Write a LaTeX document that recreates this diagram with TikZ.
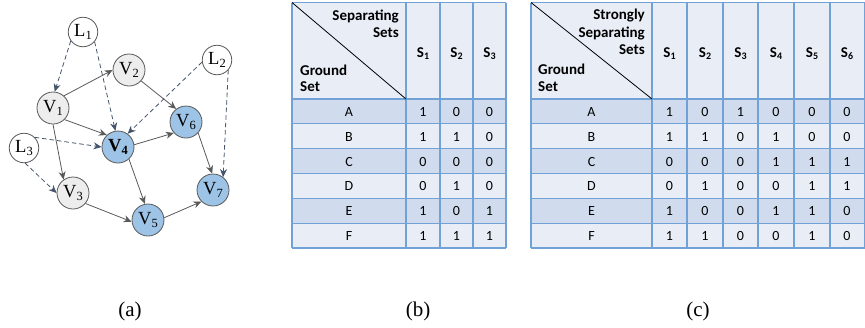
\documentclass[tikz,border=0pt]{standalone}
\usepackage{fontspec}
\setmainfont{Liberation Serif}
\newfontfamily\tabfont{Carlito}
\usetikzlibrary{arrows.meta}
\definecolor{nodeblue}{RGB}{157,195,230}
\definecolor{nodegray}{RGB}{237,237,237}
\definecolor{edgegray}{RGB}{89,89,89}
\definecolor{dashblue}{RGB}{68,84,106}
\definecolor{rowdark}{RGB}{208,220,237}
\definecolor{rowlight}{RGB}{233,238,246}
\definecolor{gridblue}{RGB}{112,162,216}
\newcommand\nsub[2]{#1\raisebox{-0.35ex}{\fontsize{12.5}{12.5}\selectfont #2}}
\newcommand\ssub[2]{#1\raisebox{-0.3ex}{\fontsize{10}{10}\selectfont #2}}
\begin{document}
\begin{tikzpicture}[x=1pt,y=-1pt,
  gnode/.style={circle, draw=edgegray, line width=0.8pt, minimum size=32pt, inner sep=0pt, font=\fontsize{18.5}{18.5}\selectfont},
  lnode/.style={gnode, fill=white, minimum size=29.5pt},
  vgray/.style={gnode, fill=nodegray},
  vblue/.style={gnode, fill=nodeblue},
  sedge/.style={draw=edgegray, line width=0.8pt, -{Stealth[length=8pt,width=7pt]}},
  dedge/.style={draw=dashblue, line width=0.8pt, dash pattern=on 4.5pt off 3pt, -{Stealth[length=8pt,width=7pt]}},
  tgrid/.style={draw=gridblue, line width=1.2pt},
  tcell/.style={anchor=base, inner sep=0pt, font=\tabfont\fontsize{14}{16}\selectfont},
  hcell/.style={anchor=base, inner sep=0pt, font=\tabfont\bfseries\fontsize{15}{17}\selectfont},
  captext/.style={font=\fontsize{21}{24}\selectfont, inner sep=0pt}
]
\useasboundingbox (0,0) rectangle (865,327);

% ---------- graph (a) ----------
\node[lnode] (L1) at (83,32) {\nsub{L}{1}};
\node[lnode] (L2) at (217,60) {\nsub{L}{2}};
\node[lnode] (L3) at (24,148) {\nsub{L}{3}};
\node[vgray] (V1) at (53,108) {\nsub{V}{1}};
\node[vgray] (V2) at (129,70) {\nsub{V}{2}};
\node[vgray] (V3) at (73,193) {\nsub{V}{3}};
\node[vblue] (V4) at (118,147) {\bfseries\nsub{V}{4}};
\node[vblue] (V5) at (148,220) {\nsub{V}{5}};
\node[vblue] (V6) at (186,122) {\nsub{V}{6}};
\node[vblue] (V7) at (213,190) {\nsub{V}{7}};

\draw[sedge] (V1.48) -- (V2.180);
\draw[sedge] (V1.-45) -- (V4.133);
\draw[sedge] (V1.-90) -- (V3.125);
\draw[sedge] (V2.-42) -- (V6.127);
\draw[sedge] (V4.8) -- (V6.-138);
\draw[sedge] (V4.-48) -- (V5.101);
\draw[sedge] (V3.-40) -- (V5.186);
\draw[sedge] (V5.8) -- (V7.225);
\draw[sedge] (V6.-42) -- (V7.93);

\draw[dedge] (L1.-144) -- (V1.84);
\draw[dedge] (L1.-40) -- (V4.99);
\draw[dedge] (L2.188) -- (V4.54);
\draw[dedge] (L2.-42) -- (V7.52);
\draw[dedge] (L3.45) -- (V4.180);
\draw[dedge] (L3.-86) -- (V3.180);

% ---------- table (b) ----------
\fill[rowlight] (292,2.5) rectangle (506,248);
\foreach \i in {0,2,4}{
  \fill[rowdark] (292,{99+24.83*\i}) rectangle (506,{99+24.83*(\i+1)});
}
\foreach \x in {292,406,440,473,506}{ \draw[tgrid] (\x,2.5) -- (\x,248); }
\draw[tgrid] (292,2.5) -- (506,2.5);
\foreach \i in {0,...,6}{ \draw[tgrid] (292,{99+24.83*\i}) -- (506,{99+24.83*\i}); }
\draw[line width=0.8pt] (292,2.5) -- (406,99);
\node[hcell, anchor=base east] at (399,20) {Separating};
\node[hcell, anchor=base east] at (399,37) {Sets};
\node[hcell, anchor=base west] at (300,75) {Ground};
\node[hcell, anchor=base west] at (300,91.5) {Set};
\node[hcell] at (423,57) {\ssub{S}{1}};
\node[hcell] at (456.5,57) {\ssub{S}{2}};
\node[hcell] at (489.5,57) {\ssub{S}{3}};
\foreach \lab/\a/\b/\c [count=\i from 0] in {A/1/0/0, B/1/1/0, C/0/0/0, D/0/1/0, E/1/0/1, F/1/1/1}{
  \pgfmathsetmacro\yb{99+24.83*\i+17.4}
  \node[tcell] at (349,\yb) {\lab};
  \node[tcell] at (423,\yb) {\a};
  \node[tcell] at (456.5,\yb) {\b};
  \node[tcell] at (489.5,\yb) {\c};
}

% ---------- table (c) ----------
\fill[rowlight] (531,2.5) rectangle (864.5,248);
\foreach \i in {0,2,4}{
  \fill[rowdark] (531,{99+24.83*\i}) rectangle (864.5,{99+24.83*(\i+1)});
}
\foreach \x in {531,652,687,723,758,794,830,864.5}{ \draw[tgrid] (\x,2.5) -- (\x,248); }
\draw[tgrid] (531,2.5) -- (864.5,2.5);
\foreach \i in {0,...,6}{ \draw[tgrid] (531,{99+24.83*\i}) -- (864.5,{99+24.83*\i}); }
\draw[line width=0.8pt] (531,2.5) -- (652,99);
\node[hcell, anchor=base east] at (645,19.5) {Strongly};
\node[hcell, anchor=base east] at (645,37) {Separating};
\node[hcell, anchor=base east] at (645,54.5) {Sets};
\node[hcell, anchor=base west] at (538,74.5) {Ground};
\node[hcell, anchor=base west] at (538,91.5) {Set};
\foreach \xc/\k in {669.5/1,705/2,740.5/3,776/4,812/5,847/6}{
  \node[hcell] at (\xc,57) {\ssub{S}{\k}};
}
\foreach \lab/\a/\b/\c/\d/\e/\f [count=\i from 0] in {A/1/0/1/0/0/0, B/1/1/0/1/0/0, C/0/0/0/1/1/1, D/0/1/0/0/1/1, E/1/0/0/1/1/0, F/1/1/0/0/1/0}{
  \pgfmathsetmacro\yb{99+24.83*\i+17.4}
  \node[tcell] at (591.5,\yb) {\lab};
  \node[tcell] at (669.5,\yb) {\a};
  \node[tcell] at (705,\yb) {\b};
  \node[tcell] at (740.5,\yb) {\c};
  \node[tcell] at (776,\yb) {\d};
  \node[tcell] at (812,\yb) {\e};
  \node[tcell] at (847,\yb) {\f};
}

% ---------- captions ----------
\node[captext] (capa) at (130,311) {(a)};
\node[captext] (capb) at (418,311) {(b)};
\node[captext] (capc) at (698,311) {(c)};
\end{tikzpicture}
\end{document}
